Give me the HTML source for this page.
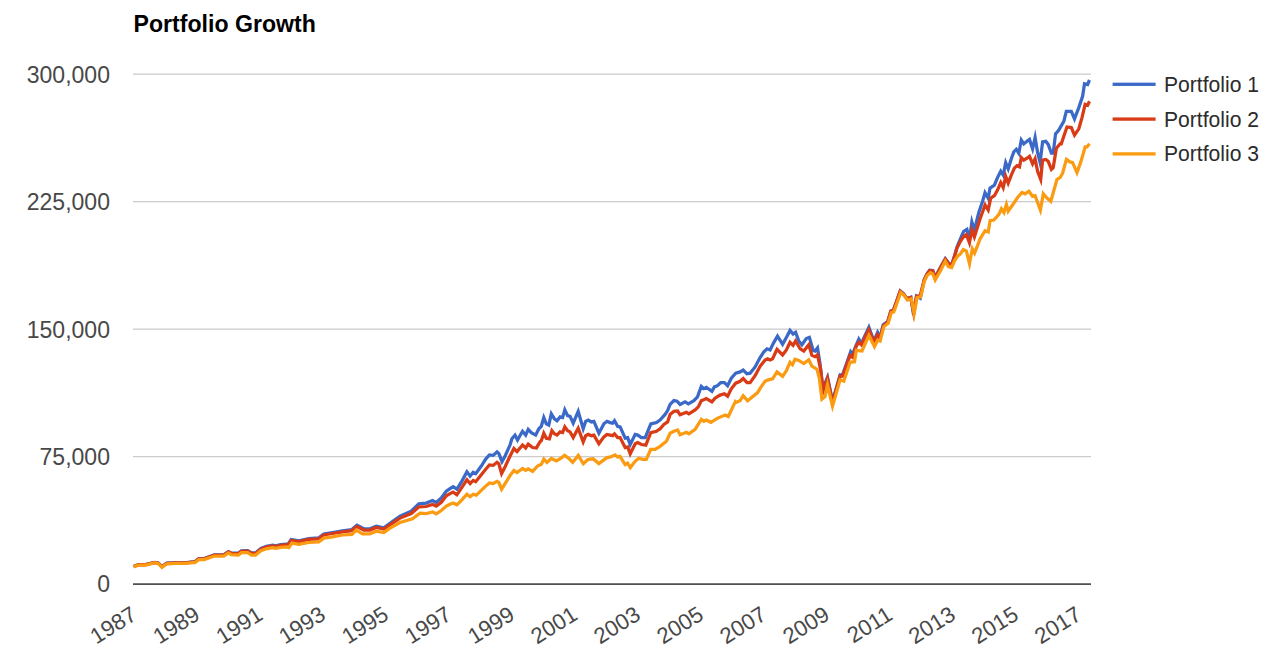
<!DOCTYPE html>
<html><head><meta charset="utf-8"><title>Portfolio Growth</title>
<style>
html,body{margin:0;padding:0;background:#fff;}
body{width:1280px;height:671px;overflow:hidden;font-family:"Liberation Sans",sans-serif;}
svg{display:block;}
text{font-family:"Liberation Sans",sans-serif;}
</style></head><body>
<svg width="1280" height="671" viewBox="0 0 1280 671">
<rect x="0" y="0" width="1280" height="671" fill="#ffffff"/>
<text x="133.6" y="32.25" font-size="23.1" font-weight="bold" fill="#000000">Portfolio Growth</text>
<rect x="133" y="73.50" width="958" height="1.3" fill="#cccccc"/>
<rect x="133" y="201.00" width="958" height="1.3" fill="#cccccc"/>
<rect x="133" y="328.50" width="958" height="1.3" fill="#cccccc"/>
<rect x="133" y="455.97" width="958" height="1.3" fill="#cccccc"/>
<g fill="none" stroke-width="3.25" stroke-linejoin="miter" stroke-miterlimit="6" stroke-linecap="butt">
<path d="M133.5,566.6L134.3,566.2L138.6,564.6L145.6,564.5L154.2,562.5L158.1,562.9L162.0,566.7L166.7,563.2L176.9,562.7L186.2,562.6L192.5,561.8L194.8,561.7L198.8,558.6L204.2,558.5L214.4,554.9L223.8,554.8L228.4,551.7L231.2,552.9L238.3,553.2L241.4,550.8L247.7,550.7L251.6,552.9L255.5,552.9L260.9,548.5L266.4,546.4L272.7,545.2L275.8,545.9L280.5,544.6L286.7,544.1L288.1,544.2L291.2,539.6L298.8,540.8L308.8,538.5L318.8,537.9L323.8,534.0L332.5,532.5L342.5,530.8L351.9,529.5L356.9,525.2L363.8,528.8L370.0,528.8L376.2,526.2L383.8,527.9L390.0,523.2L400.0,516.2L411.2,511.2L418.8,503.8L426.2,503.1L432.5,500.6L436.2,502.5L441.3,497.9L446.3,491.1L450.0,488.6L453.1,486.7L456.9,489.2L461.9,481.1L466.9,471.7L470.1,476.1L473.2,472.3L475.7,473.6L481.3,466.0L485.7,459.1L489.4,455.0L493.2,455.4L497.0,452.0L498.8,453.5L502.0,461.7L505.1,456.0L510.1,444.8L511.9,438.8L515.0,435.1L517.5,440.1L522.5,431.3L525.7,435.1L528.2,429.4L531.3,432.6L535.7,435.1L538.8,428.8L541.3,426.3L543.8,417.6L546.3,423.8L548.8,425.1L551.3,413.8L554.4,418.8L557.0,420.7L560.1,416.9L562.6,417.6L564.8,409.8L567.6,415.7L570.1,416.3L573.2,423.2L578.2,411.3L583.2,428.8L585.7,421.3L588.2,420.1L591.4,421.9L593.9,421.3L598.9,433.2L603.9,423.8L607.0,421.3L610.1,422.6L612.6,423.2L614.5,420.7L617.6,426.3L620.1,426.9L625.2,438.2L627.7,437.6L630.2,444.5L635.2,434.4L637.7,435.1L641.4,437.6L645.2,437.6L650.8,423.8L656.5,422.6L660.0,420.1L660.1,420.0L665.1,414.4L667.6,410.6L670.1,404.4L673.9,400.6L677.0,401.2L680.1,404.4L685.1,401.9L688.3,403.8L693.9,400.6L697.5,396.9L701.3,386.3L703.8,388.6L706.3,387.3L711.9,391.3L714.4,386.9L717.5,385.7L720.7,382.6L724.4,382.6L727.6,385.7L731.3,378.2L735.7,373.2L740.1,371.9L743.2,370.0L747.0,373.8L750.1,373.2L755.1,366.9L760.1,357.5L763.9,351.9L767.0,348.8L770.1,350.0L773.6,342.8L777.5,336.2L782.6,344.4L786.9,336.6L790.0,330.4L793.1,334.1L795.6,332.3L798.8,341.0L801.9,344.8L806.3,338.5L809.4,337.3L813.1,350.4L815.0,351.0L817.5,347.9L820.0,363.6L822.8,388.6L827.5,377.3L832.5,401.1L840.1,374.8L842.6,374.8L850.7,351.7L852.6,354.2L856.3,344.8L858.8,339.1L861.3,343.5L868.9,327.2L873.9,341.0L877.6,332.3L880.1,337.3L883.2,324.8L887.7,321.7L890.8,311.1L893.3,310.4L897.1,299.8L900.2,291.0L903.3,293.5L907.1,298.6L910.8,297.3L913.6,315.1L916.5,296.1L920.2,298.2L924.2,279.7L927.0,273.8L929.7,270.2L932.8,270.6L935.2,277.2L939.8,268.6L945.3,258.8L949.2,263.8L952.0,263.8L954.7,255.2L957.0,247.0L960.2,239.4L962.5,233.9L963.8,231.3L966.9,229.4L969.4,239.4L971.9,221.9L974.4,230.1L978.8,212.5L982.6,201.3L985.0,192.6L988.2,198.2L990.0,188.2L994.4,185.1L997.5,177.6L1000.7,171.3L1003.2,175.1L1005.7,162.6L1008.2,168.8L1011.3,158.8L1013.8,151.9L1016.3,149.4L1018.8,153.2L1021.3,140.0L1023.8,143.8L1027.0,141.3L1029.5,139.4L1032.6,148.8L1035.1,137.5L1037.6,152.5L1040.1,162.6L1042.6,141.9L1045.7,141.3L1048.2,144.4L1051.4,153.2L1053.2,153.2L1055.7,132.6L1055.7,133.8L1058.8,130.1L1063.8,121.3L1066.3,111.3L1071.3,111.3L1074.5,118.8L1078.8,107.6L1082.6,96.3L1084.5,83.8L1087.6,84.5L1089.5,80.0" stroke="#3a69c8"/>
<path d="M133.5,566.7L134.3,566.3L138.6,564.7L145.6,564.7L154.2,562.7L158.1,563.0L162.0,566.9L166.7,563.4L176.9,562.9L186.2,562.9L192.5,562.0L194.8,562.0L198.8,558.9L204.2,558.8L214.4,555.2L223.8,555.2L228.4,552.0L231.2,553.4L238.3,553.7L241.4,551.3L247.7,551.2L251.6,553.5L255.5,553.5L260.9,549.1L266.4,547.1L272.7,545.8L275.8,546.6L280.5,545.3L286.7,544.9L288.1,545.0L291.2,540.4L298.8,541.5L308.8,539.4L318.8,538.8L323.8,535.0L332.5,533.5L342.5,531.9L351.9,530.6L356.9,526.5L363.8,530.0L370.0,530.0L376.2,527.5L383.8,529.1L390.0,524.8L400.0,518.1L411.2,513.5L418.8,506.9L426.2,506.5L432.5,504.4L436.2,506.2L441.3,502.3L446.3,495.8L450.0,493.6L453.1,492.1L456.9,494.8L461.9,487.3L466.9,479.8L470.1,483.6L473.2,480.4L475.7,481.7L481.3,474.8L485.7,469.2L489.4,465.0L493.2,465.4L497.0,462.3L498.8,463.8L501.6,473.6L505.1,466.7L510.1,456.0L513.9,448.5L517.0,451.6L522.6,445.0L525.7,447.9L528.2,444.1L532.6,447.5L536.4,447.9L540.1,441.6L541.3,440.7L543.8,433.2L546.3,438.2L549.4,438.8L551.9,430.7L554.4,433.8L557.0,435.1L560.1,431.9L562.6,432.6L564.8,426.9L567.6,430.7L570.1,431.9L573.2,437.6L578.2,428.2L583.2,441.9L585.7,435.7L588.2,434.4L591.4,435.7L593.9,435.1L598.9,443.8L603.9,436.9L607.0,434.4L610.1,435.1L612.6,435.7L614.5,433.8L617.6,437.6L620.1,437.6L625.2,447.6L627.7,447.0L630.2,453.8L635.2,443.8L637.7,442.6L641.4,444.5L645.8,445.1L650.8,432.6L656.5,431.3L660.0,428.8L660.1,428.8L663.9,424.4L667.6,421.9L670.1,414.4L673.9,411.3L677.6,411.0L680.1,414.8L686.4,412.3L688.9,413.8L695.1,410.0L698.3,406.9L701.4,400.6L703.8,399.8L706.3,398.6L711.9,401.9L715.0,398.2L720.0,395.1L724.4,393.8L727.6,396.3L731.3,388.8L735.7,383.2L740.1,381.3L743.2,378.6L747.0,382.6L750.1,382.6L755.1,375.7L760.1,366.3L765.1,360.0L767.6,358.8L770.1,360.0L772.6,358.8L777.0,349.4L782.6,355.0L786.4,350.0L790.0,342.3L793.1,345.4L795.6,341.0L800.0,348.5L803.8,351.0L808.8,344.8L811.9,355.4L815.0,356.7L817.5,354.8L820.7,369.8L823.2,391.1L827.5,378.6L832.5,402.4L840.1,376.1L842.6,376.1L850.1,355.4L852.6,357.3L856.3,346.0L858.8,342.3L861.3,344.8L868.9,329.8L873.9,342.3L877.6,334.8L880.1,338.5L883.2,326.0L887.7,321.9L890.8,311.3L893.3,310.7L897.1,300.1L900.2,291.3L903.3,293.8L907.1,298.8L910.8,297.6L913.6,312.6L916.5,296.3L920.2,295.7L924.2,280.0L927.0,274.1L929.7,270.6L932.8,271.0L935.2,277.7L939.8,269.1L945.3,259.3L949.2,264.4L952.0,264.4L954.7,255.8L957.0,248.0L960.2,241.7L963.3,237.0L966.4,234.7L969.4,242.6L971.9,230.1L974.4,236.9L980.1,218.8L985.1,205.0L988.2,210.0L990.7,198.2L994.4,195.7L997.5,190.1L1000.7,182.6L1003.2,187.6L1005.7,176.3L1008.2,183.2L1011.3,175.1L1014.4,168.2L1017.0,165.7L1019.5,166.9L1021.3,157.6L1023.8,160.1L1027.0,158.2L1029.5,156.3L1032.6,163.8L1035.1,158.8L1037.6,171.3L1040.7,179.4L1042.6,160.1L1045.7,159.4L1048.2,161.3L1051.4,169.4L1053.2,167.6L1056.4,148.2L1060.1,143.8L1061.3,143.8L1063.8,136.3L1067.0,127.0L1071.3,127.6L1074.5,135.1L1078.8,128.8L1082.0,117.6L1085.1,104.4L1087.6,105.3L1089.5,101.3" stroke="#d93b16"/>
<path d="M133.5,567.0L134.3,566.6L138.6,565.0L145.6,565.0L154.2,563.0L158.1,563.4L162.0,567.3L166.7,563.8L176.9,563.4L186.2,563.4L192.5,562.7L194.8,562.7L198.8,559.5L204.2,559.5L214.4,556.0L223.8,556.0L228.4,552.9L231.2,554.7L238.3,555.1L241.4,552.7L247.7,552.7L251.6,555.1L255.5,555.1L260.9,550.8L266.4,548.8L272.7,547.7L275.8,548.4L280.5,547.3L286.7,546.9L288.8,547.5L291.9,543.1L298.8,544.4L308.8,542.5L318.8,541.9L323.8,538.1L332.5,536.9L342.5,535.0L351.9,534.4L356.2,530.0L362.5,533.8L370.0,533.8L376.2,531.2L383.8,532.5L390.0,528.1L400.0,522.5L412.5,518.8L420.0,513.1L426.2,513.5L432.5,511.9L436.2,513.8L441.3,510.5L446.3,506.1L450.0,504.2L453.1,503.0L456.9,504.8L461.9,499.8L466.9,494.2L470.1,496.7L473.2,494.2L476.3,495.1L481.3,490.4L485.7,486.1L489.4,482.9L493.2,483.6L497.0,481.3L498.8,482.3L501.6,489.2L505.1,483.6L510.1,475.4L513.9,470.4L517.0,472.6L522.6,468.5L525.7,470.4L528.2,468.8L532.6,471.4L537.6,466.0L541.4,464.2L543.9,459.1L547.0,462.5L551.4,458.5L556.4,461.0L561.4,457.9L564.5,455.4L568.9,458.5L572.7,462.3L578.3,455.4L583.3,463.8L587.7,459.8L590.0,459.1L593.1,458.8L598.8,463.6L606.9,457.6L610.7,456.9L615.0,454.8L617.5,456.9L620.0,456.3L625.1,464.5L627.6,463.2L630.3,467.6L635.1,461.3L638.8,458.2L642.6,459.4L646.3,459.4L650.7,449.4L655.1,449.4L660.1,446.3L666.4,441.3L670.1,433.2L673.9,431.3L677.6,430.0L680.1,434.8L686.4,432.3L688.9,433.8L695.1,429.4L701.4,419.4L703.9,421.3L706.4,420.0L710.8,422.3L717.7,418.1L725.2,415.0L728.3,416.5L735.2,401.9L735.7,402.6L740.1,400.7L743.2,395.7L747.6,400.7L750.1,398.8L757.6,392.6L761.4,386.3L765.1,381.3L767.6,380.1L770.1,379.4L772.6,378.8L777.0,371.9L782.6,376.3L786.4,370.7L790.0,362.3L792.5,364.8L795.0,359.2L798.8,360.4L803.8,363.6L808.8,359.8L811.9,366.1L816.9,369.2L819.4,378.6L821.9,399.2L825.0,396.7L827.5,384.8L832.5,406.1L840.1,379.8L843.8,381.1L850.1,362.3L854.5,361.7L856.3,350.4L862.0,351.0L868.9,335.4L874.5,346.6L877.6,340.4L880.1,341.0L883.9,326.6L888.2,323.2L891.3,312.6L893.8,311.9L897.6,301.3L900.7,292.5L903.8,295.0L907.6,300.1L911.3,298.8L914.1,313.8L917.0,297.6L920.7,296.9L924.2,281.6L927.3,275.3L930.5,272.6L932.8,273.8L935.2,280.0L940.6,270.6L945.3,261.2L948.4,266.7L951.6,267.5L954.7,260.5L957.8,255.8L960.2,254.2L963.3,249.5L966.4,251.1L969.5,263.6L972.3,248.8L974.6,253.1L978.1,244.1L980.1,238.8L985.1,230.7L988.2,231.9L990.1,220.7L993.8,220.0L998.9,214.4L1001.4,208.8L1003.9,212.5L1006.4,204.4L1008.2,211.3L1012.6,205.0L1017.6,197.5L1022.0,192.5L1025.1,193.8L1028.9,191.2L1032.6,196.3L1035.1,195.6L1040.4,210.0L1043.3,193.8L1046.4,197.5L1050.8,201.3L1057.0,179.4L1060.1,177.6L1062.6,173.2L1066.4,159.4L1070.1,161.9L1072.6,162.6L1077.0,172.6L1080.8,161.9L1085.2,146.9L1087.0,146.9L1089.5,143.8" stroke="#fa9b12"/>
</g>
<rect x="133" y="583.35" width="958" height="1.5" fill="#333333"/>
<g font-size="23.05" fill="#484848" text-anchor="end">
<text transform="translate(110.0,82.55) scale(1,1.025)" x="0" y="0">300,000</text>
<text transform="translate(110.0,210.05) scale(1,1.025)" x="0" y="0">225,000</text>
<text transform="translate(110.0,337.55) scale(1,1.025)" x="0" y="0">150,000</text>
<text transform="translate(110.0,465.02) scale(1,1.025)" x="0" y="0">75,000</text>
<text transform="translate(110.0,591.70) scale(1,1.025)" x="0" y="0">0</text>
</g>
<g font-size="22.3" fill="#484848" text-anchor="end">
<text transform="translate(138.2,618.4) rotate(-32)" x="0" y="0">1987</text>
<text transform="translate(201.2,618.4) rotate(-32)" x="0" y="0">1989</text>
<text transform="translate(264.2,618.4) rotate(-32)" x="0" y="0">1991</text>
<text transform="translate(327.1,618.4) rotate(-32)" x="0" y="0">1993</text>
<text transform="translate(390.1,618.4) rotate(-32)" x="0" y="0">1995</text>
<text transform="translate(453.1,618.4) rotate(-32)" x="0" y="0">1997</text>
<text transform="translate(516.1,618.4) rotate(-32)" x="0" y="0">1999</text>
<text transform="translate(579.1,618.4) rotate(-32)" x="0" y="0">2001</text>
<text transform="translate(642.0,618.4) rotate(-32)" x="0" y="0">2003</text>
<text transform="translate(705.0,618.4) rotate(-32)" x="0" y="0">2005</text>
<text transform="translate(768.0,618.4) rotate(-32)" x="0" y="0">2007</text>
<text transform="translate(831.0,618.4) rotate(-32)" x="0" y="0">2009</text>
<text transform="translate(894.0,618.4) rotate(-32)" x="0" y="0">2011</text>
<text transform="translate(956.9,618.4) rotate(-32)" x="0" y="0">2013</text>
<text transform="translate(1019.9,618.4) rotate(-32)" x="0" y="0">2015</text>
<text transform="translate(1082.9,618.4) rotate(-32)" x="0" y="0">2017</text>
</g>
<g font-size="21.1" fill="#2c2c2c">
<rect x="1112.6" y="82.65" width="43" height="3.3" fill="#3a69c8"/>
<text transform="translate(1164.0,91.8) scale(1,1.03)" x="0" y="0">Portfolio 1</text>
<rect x="1112.6" y="117.45" width="43" height="3.3" fill="#d93b16"/>
<text transform="translate(1164.0,126.6) scale(1,1.03)" x="0" y="0">Portfolio 2</text>
<rect x="1112.6" y="152.25" width="43" height="3.3" fill="#fa9b12"/>
<text transform="translate(1164.0,161.4) scale(1,1.03)" x="0" y="0">Portfolio 3</text>
</g>
</svg></body></html>
